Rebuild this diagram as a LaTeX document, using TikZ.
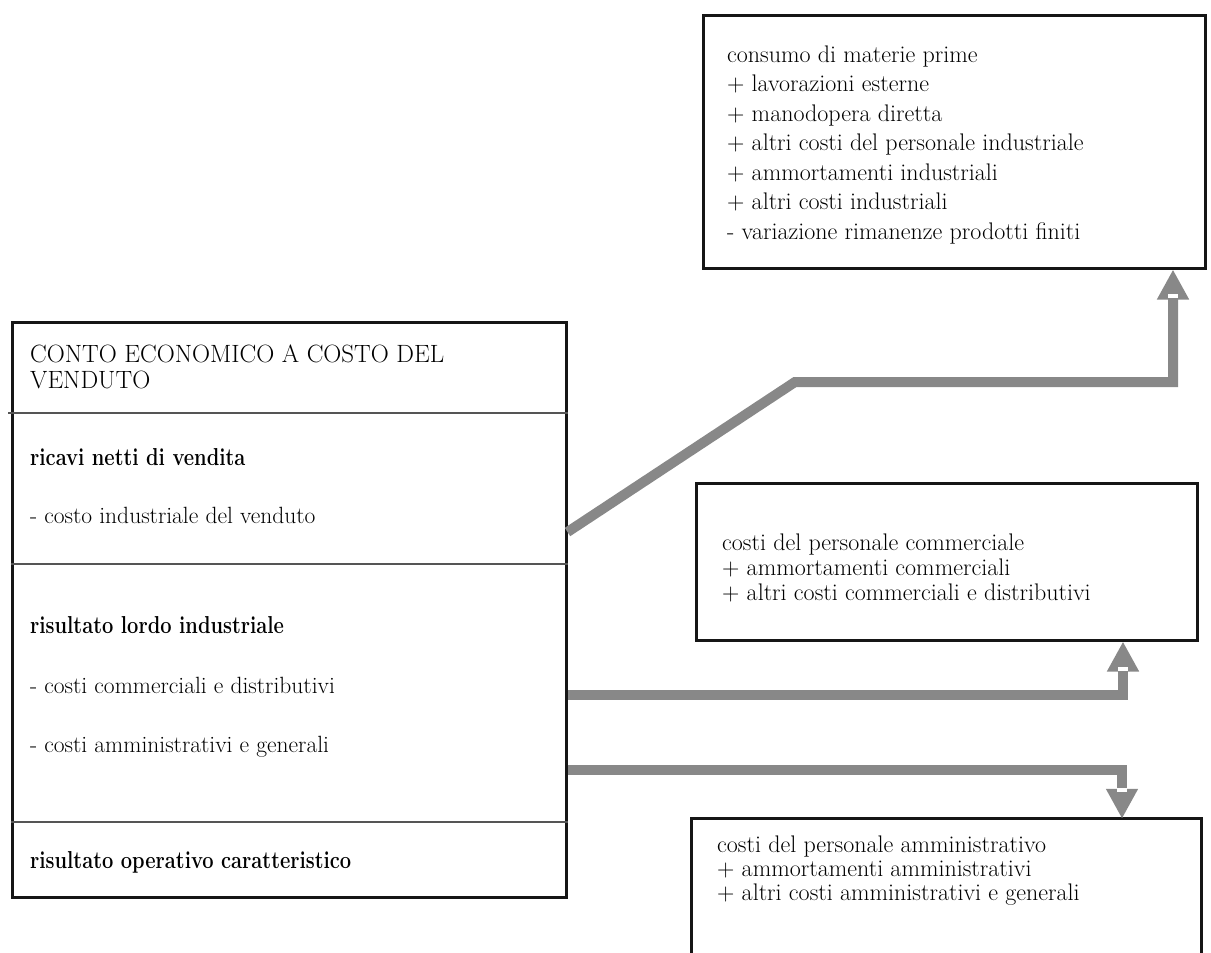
\documentclass[tikz,border=0pt]{standalone}
\usepackage{graphicx}
\usetikzlibrary{arrows.meta}
\definecolor{ink}{HTML}{161616}
\definecolor{flow}{HTML}{888888}
\definecolor{rulegray}{HTML}{555555}
\newcommand{\heading}[1]{\scalebox{0.82}[1]{\fontsize{24.5}{28}\selectfont\bfseries #1}}
\begin{document}
\begin{tikzpicture}[x=1pt,y=-1pt,
  box/.style={draw=ink, line width=3pt, rectangle, inner sep=0pt},
  txt/.style={anchor=base west, inner sep=0pt, font=\fontsize{24}{28}\selectfont},
  ltxt/.style={txt, font=\fontsize{23.5}{27}\selectfont},
  ttl/.style={txt, font=\fontsize{25}{29}\selectfont},
  btxt/.style={anchor=base west, inner sep=0pt},
  divider/.style={draw=rulegray, line width=1.3pt},
  flowline/.style={draw=flow, line width=10pt, line join=miter,
    -{Triangle[length=30pt,width=30pt]}},
  notch/.style={fill=white}
]
\useasboundingbox (0,0) rectangle (1211,953);

% boxes
\node[box, minimum width=554pt, minimum height=575pt] (L) at (289,609.5) {};
\node[box, minimum width=502pt, minimum height=253pt] (T) at (954,141.5) {};
\node[box, minimum width=501pt, minimum height=157pt] (M) at (946.5,561.5) {};
\node[minimum width=509pt, minimum height=140pt, inner sep=0pt] (B) at (946.5,889) {};
\draw[ink, line width=3pt] (B.south west) -- (B.north west) -- (B.north east) -- (B.south east);

% section rules of the statement
\draw[divider] (8,413) -- (L.east |- 0,413);
\draw[divider] (L.west |- 0,564) -- (L.east |- 0,564);
\draw[divider] (L.west |- 0,822) -- (L.east |- 0,822);

% statement text
\node[ttl] (L1) at (30,362) {CONTO ECONOMICO A COSTO DEL};
\node[ttl] (L2) at (30,388) {VENDUTO};
\node[btxt] (L3) at (30,465) {\heading{ricavi netti di vendita}};
\node[ltxt] (L4) at (30,523) {- costo industriale del venduto};
\node[btxt] (L5) at (30,633) {\heading{risultato lordo industriale}};
\node[ltxt] (L6) at (30,693) {- costi commerciali e distributivi};
\node[ltxt] (L7) at (30,752) {- costi amministrativi e generali};
\node[btxt] (L8) at (30,868) {\heading{risultato operativo caratteristico}};

% industrial costs
\foreach \s [count=\i] in {consumo di materie prime, + lavorazioni esterne,
  + manodopera diretta, + altri costi del personale industriale,
  + ammortamenti industriali, + altri costi industriali,
  - variazione rimanenze prodotti finiti}
  \node[txt] (T\i) at (727,{62+29.5*(\i-1)}) {\s};

% commercial costs
\foreach \s [count=\i] in {costi del personale commerciale,
  + ammortamenti commerciali, + altri costi commerciali e distributivi}
  \node[txt] (M\i) at (722,{550+25*(\i-1)}) {\s};

% administrative costs
\foreach \s [count=\i] in {costi del personale amministrativo,
  + ammortamenti amministrativi, + altri costi amministrativi e generali}
  \node[txt] (B\i) at (717,{852+24*(\i-1)}) {\s};

% flows
\coordinate (k1) at (795,382);
\draw[flowline] (L.east |- 0,532) -- (k1) -- (1173,382) -- (1173,0 |- T.south);
\draw[flowline] (L.east |- 0,695) -- (1123,695) -- (1123,0 |- M.south);
\draw[flowline] (L.east |- 0,770) -- (1122,770) -- (1122,0 |- B.north);
\fill[notch] (1168,294) rectangle (1178,298);
\fill[notch] (1118,667) rectangle (1128,671);
\fill[notch] (1117,788) rectangle (1127,792);
\end{tikzpicture}
\end{document}
